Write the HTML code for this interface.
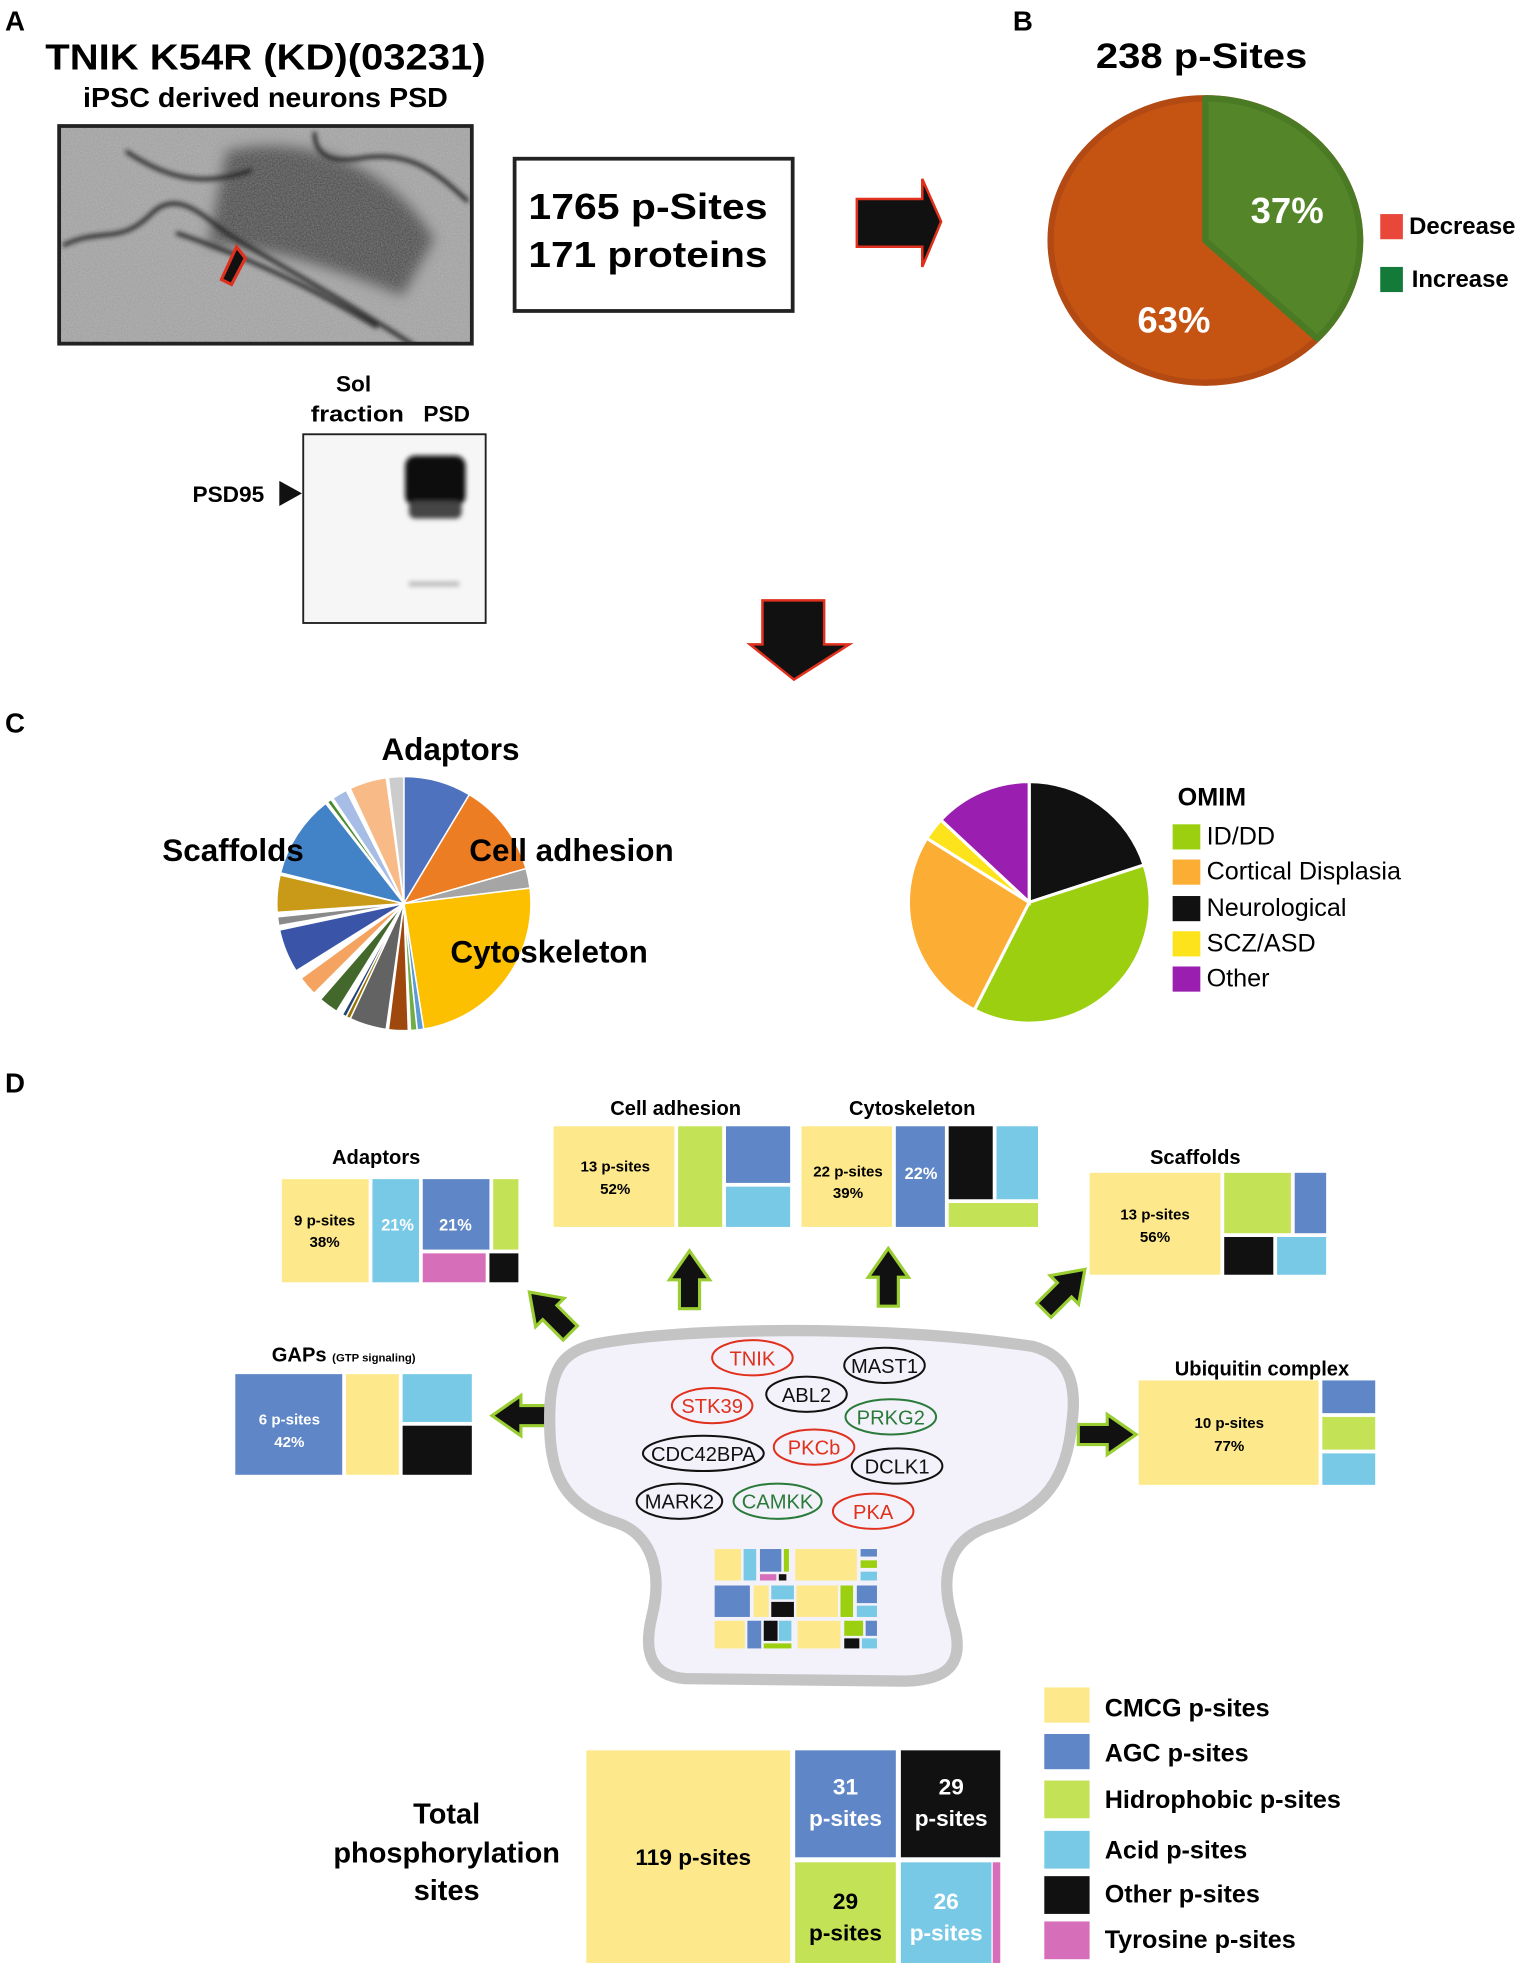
<!DOCTYPE html>
<html><head><meta charset="utf-8"><style>
html,body{margin:0;padding:0;background:#fff}
svg{display:block}
text{font-family:"Liberation Sans",Arial,sans-serif}
</style></head><body>
<svg width="1535" height="1977" viewBox="0 0 1220 1571" xmlns="http://www.w3.org/2000/svg">
<defs>
<filter id="noise" x="0" y="0" width="1" height="1"><feTurbulence type="fractalNoise" baseFrequency="0.9" numOctaves="2" seed="3"/><feColorMatrix type="matrix" values="0 0 0 0 0.3  0 0 0 0 0.3  0 0 0 0 0.3  0 0 0 -1.2 1.1"/></filter>
<filter id="blur"><feGaussianBlur stdDeviation="5"/></filter>
<filter id="blur2"><feGaussianBlur stdDeviation="2"/></filter>
<clipPath id="emclip"><rect x="47" y="100" width="328" height="173"/></clipPath>
</defs>
<rect width="1220" height="1571" fill="#fff"/>

<text x="4" y="24" font-size="22" font-weight="bold">A</text>
<text x="805" y="24" font-size="22" font-weight="bold">B</text>
<text x="4" y="582" font-size="22" font-weight="bold">C</text>
<text x="4" y="868" font-size="22" font-weight="bold">D</text>

<text x="211" y="55" font-size="29" font-weight="bold" text-anchor="middle" textLength="350" lengthAdjust="spacingAndGlyphs">TNIK K54R (KD)(03231)</text>
<text x="211" y="85" font-size="22" font-weight="bold" text-anchor="middle" textLength="290" lengthAdjust="spacingAndGlyphs">iPSC derived neurons PSD</text>

<!-- EM image -->
<g clip-path="url(#emclip)">
<rect x="47" y="100" width="328" height="173" fill="#b4b4b4"/>
<path d="M180 120 C240 105 310 130 345 190 L320 235 C270 215 215 195 165 195 Z" fill="#4a4a4a" filter="url(#blur)"/>
<rect x="47" y="100" width="328" height="173" filter="url(#noise)" opacity="0.7"/>
<g fill="none" stroke="#222" stroke-width="3" filter="url(#blur2)">
<path d="M50 195 C80 180 95 195 120 170 C140 150 160 170 180 185 C220 210 260 230 330 275"/>
<path d="M140 185 C200 205 250 230 300 260"/>
<path d="M100 120 C130 140 160 150 200 135"/>
<path d="M250 105 C250 125 265 130 290 125 C330 120 350 140 372 160"/>
</g>
</g>
<rect x="47" y="100" width="328" height="173" fill="none" stroke="#222" stroke-width="3"/>
<polygon points="176,222 188,196 195,205 184,226" fill="#111" stroke="#e0301e" stroke-width="2.5"/>

<rect x="409" y="126" width="221" height="121" fill="#fff" stroke="#222" stroke-width="3"/>
<text x="515" y="174" font-size="29" font-weight="bold" text-anchor="middle" textLength="190" lengthAdjust="spacingAndGlyphs">1765 p-Sites</text>
<text x="515" y="212" font-size="29" font-weight="bold" text-anchor="middle" textLength="190" lengthAdjust="spacingAndGlyphs">171 proteins</text>

<polygon points="681,158 733,158 733,142 748,176 733,212 733,196 681,196" fill="#111" stroke="#e0301e" stroke-width="2"/>

<text x="281" y="311" font-size="18" font-weight="bold" text-anchor="middle">Sol</text>
<text x="284" y="335" font-size="18" font-weight="bold" text-anchor="middle" textLength="74" lengthAdjust="spacingAndGlyphs">fraction</text>
<text x="355" y="335" font-size="18" font-weight="bold" text-anchor="middle">PSD</text>
<rect x="241" y="345" width="145" height="150" fill="#f6f6f6" stroke="#222" stroke-width="1.5"/>
<g filter="url(#blur2)">
<rect x="322" y="362" width="48" height="40" rx="8" fill="#0c0c0c"/>
<rect x="325" y="398" width="42" height="14" rx="5" fill="#444"/>
<rect x="325" y="462" width="40" height="4" fill="#bbb"/>
</g>
<text x="153" y="399" font-size="18" font-weight="bold">PSD95</text>
<polygon points="222,382 240,392 222,402" fill="#111"/>

<!-- B -->
<text x="955" y="54" font-size="28" font-weight="bold" text-anchor="middle" textLength="168" lengthAdjust="spacingAndGlyphs">238 p-Sites</text>
<ellipse cx="958" cy="191" rx="123" ry="113" fill="#c55413" stroke="#b34a13" stroke-width="5"/>
<path d="M958 191 L958 78 A123 113 0 0 1 1047 269 Z" fill="#558529" stroke="#4a7a24" stroke-width="5" stroke-linejoin="round"/>
<text x="1023" y="177" font-size="29" font-weight="bold" fill="#fff" text-anchor="middle">37%</text>
<text x="933" y="264" font-size="29" font-weight="bold" fill="#fff" text-anchor="middle">63%</text>
<rect x="1097" y="170" width="18" height="20" fill="#e8473a"/>
<text x="1120" y="186" font-size="19" font-weight="bold">Decrease</text>
<rect x="1097" y="212" width="18" height="20" fill="#147a3a"/>
<text x="1122" y="228" font-size="19" font-weight="bold">Increase</text>

<polygon points="606,477 655,477 655,512 675,512 631,540 596,512 606,512" fill="#111" stroke="#e0301e" stroke-width="2"/>

<g id="pie1"></g>
<g id="pie2"></g>
<text x="358" y="604" font-size="25" font-weight="bold" text-anchor="middle">Adaptors</text>
<text x="129" y="684" font-size="25" font-weight="bold">Scaffolds</text>
<text x="373" y="684" font-size="25" font-weight="bold">Cell adhesion</text>
<text x="358" y="765" font-size="25" font-weight="bold">Cytoskeleton</text>

<text x="936" y="640" font-size="20" font-weight="bold">OMIM</text>
<rect x="932" y="655" width="22" height="20" fill="#9ccf10"/><text x="959" y="671" font-size="20">ID/DD</text>
<rect x="932" y="683" width="22" height="20" fill="#fcad34"/><text x="959" y="699" font-size="20">Cortical Displasia</text>
<rect x="932" y="712" width="22" height="20" fill="#111"/><text x="959" y="728" font-size="20">Neurological</text>
<rect x="932" y="740" width="22" height="20" fill="#fde31c"/><text x="959" y="756" font-size="20">SCZ/ASD</text>
<rect x="932" y="768" width="22" height="20" fill="#9a1fb0"/><text x="959" y="784" font-size="20">Other</text>

<g font-weight="bold" text-anchor="middle">
<text x="299" y="925" font-size="16">Adaptors</text>
<rect x="224" y="937" width="69" height="82" fill="#fde98c"/>
<rect x="296" y="937" width="37" height="82" fill="#78c9e6"/>
<rect x="336" y="937" width="53" height="56" fill="#5f86c6"/>
<rect x="336" y="996" width="50" height="23" fill="#d66eb9"/>
<rect x="392" y="937" width="20" height="56" fill="#c4e255"/>
<rect x="389" y="996" width="23" height="23" fill="#111"/>
<text x="258" y="974" font-size="12">9 p-sites</text><text x="258" y="991" font-size="12">38%</text>
<text x="316" y="978" font-size="13" fill="#fff">21%</text>
<text x="362" y="978" font-size="13" fill="#fff">21%</text>

<text x="537" y="886" font-size="16">Cell adhesion</text>
<rect x="440" y="895" width="96" height="80" fill="#fde98c"/>
<rect x="539" y="895" width="35" height="80" fill="#c4e255"/>
<rect x="577" y="895" width="51" height="45" fill="#5f86c6"/>
<rect x="577" y="943" width="51" height="32" fill="#78c9e6"/>
<text x="489" y="931" font-size="12">13 p-sites</text><text x="489" y="949" font-size="12">52%</text>

<text x="725" y="886" font-size="16">Cytoskeleton</text>
<rect x="637" y="895" width="72" height="80" fill="#fde98c"/>
<rect x="712" y="895" width="39" height="80" fill="#5f86c6"/>
<rect x="754" y="895" width="35" height="58" fill="#111"/>
<rect x="792" y="895" width="33" height="58" fill="#78c9e6"/>
<rect x="754" y="956" width="71" height="19" fill="#c4e255"/>
<text x="674" y="935" font-size="12">22 p-sites</text><text x="674" y="952" font-size="12">39%</text>
<text x="732" y="937" font-size="13" fill="#fff">22%</text>

<text x="950" y="925" font-size="16">Scaffolds</text>
<rect x="866" y="932" width="104" height="81" fill="#fde98c"/>
<rect x="973" y="932" width="53" height="48" fill="#c4e255"/>
<rect x="1029" y="932" width="25" height="48" fill="#5f86c6"/>
<rect x="973" y="983" width="39" height="30" fill="#111"/>
<rect x="1015" y="983" width="39" height="30" fill="#78c9e6"/>
<text x="918" y="969" font-size="12">13 p-sites</text><text x="918" y="987" font-size="12">56%</text>

<text x="216" y="1082" font-size="16" text-anchor="start">GAPs <tspan font-size="9">(GTP signaling)</tspan></text>
<rect x="187" y="1092" width="85" height="80" fill="#5f86c6"/>
<rect x="275" y="1092" width="42" height="80" fill="#fde98c"/>
<rect x="320" y="1092" width="55" height="38" fill="#78c9e6"/>
<rect x="320" y="1133" width="55" height="39" fill="#111"/>
<text x="230" y="1132" font-size="12" fill="#fff">6 p-sites</text><text x="230" y="1150" font-size="12" fill="#fff">42%</text>

<text x="1003" y="1093" font-size="16">Ubiquitin complex</text>
<rect x="905" y="1097" width="143" height="83" fill="#fde98c"/>
<rect x="1051" y="1097" width="42" height="26" fill="#5f86c6"/>
<rect x="1051" y="1126" width="42" height="26" fill="#c4e255"/>
<rect x="1051" y="1155" width="42" height="25" fill="#78c9e6"/>
<text x="977" y="1135" font-size="12">10 p-sites</text><text x="977" y="1153" font-size="12">77%</text>
</g>

<g fill="#111" stroke="#9acd32" stroke-width="2.5">
<polygon transform="translate(437,1043) rotate(-45)" points="-8,23 8,23 8,0 16,0 0,-23 -16,0 -8,0"/>
<polygon transform="translate(548,1017)" points="-8,23 8,23 8,0 16,0 0,-23 -16,0 -8,0"/>
<polygon transform="translate(706,1015)" points="-8,23 8,23 8,0 16,0 0,-23 -16,0 -8,0"/>
<polygon transform="translate(846,1025) rotate(45)" points="-8,23 8,23 8,0 16,0 0,-23 -16,0 -8,0"/>
<polygon transform="translate(414,1125) rotate(-90)" points="-8,23 8,23 8,0 16,0 0,-23 -16,0 -8,0"/>
<polygon transform="translate(880,1140) rotate(90)" points="-8,23 8,23 8,0 16,0 0,-23 -16,0 -8,0"/>
</g>

<path d="M474 1068 C540 1055 700 1052 821 1070 C850 1078 856 1100 852 1130 C848 1175 830 1200 789 1212 C755 1222 745 1250 758 1290 C768 1325 750 1335 720 1336 L545 1334 C515 1332 512 1310 518 1285 C528 1245 515 1218 490 1210 C440 1195 436 1160 437 1120 C438 1085 450 1073 474 1068 Z" fill="#f3f2fa" stroke="#c4c4c4" stroke-width="9"/>

<g fill="none" stroke-width="1.6">
<ellipse cx="598" cy="1079" rx="32" ry="14" stroke="#e0301e"/>
<ellipse cx="703" cy="1085" rx="32" ry="14" stroke="#111"/>
<ellipse cx="641" cy="1108" rx="32" ry="14" stroke="#111"/>
<ellipse cx="566" cy="1117" rx="32" ry="14" stroke="#e0301e"/>
<ellipse cx="708" cy="1126" rx="36" ry="14" stroke="#2a7a3a"/>
<ellipse cx="559" cy="1155" rx="48" ry="14" stroke="#111"/>
<ellipse cx="647" cy="1150" rx="32" ry="14" stroke="#e0301e"/>
<ellipse cx="713" cy="1165" rx="36" ry="14" stroke="#111"/>
<ellipse cx="540" cy="1193" rx="34" ry="14" stroke="#111"/>
<ellipse cx="618" cy="1193" rx="35" ry="14" stroke="#2a7a3a"/>
<ellipse cx="694" cy="1201" rx="32" ry="14" stroke="#e0301e"/>
</g>
<g font-size="16" text-anchor="middle">
<text x="598" y="1085" fill="#e0301e">TNIK</text>
<text x="703" y="1091" fill="#111">MAST1</text>
<text x="641" y="1114" fill="#111">ABL2</text>
<text x="566" y="1123" fill="#e0301e">STK39</text>
<text x="708" y="1132" fill="#2a7a3a">PRKG2</text>
<text x="559" y="1161" fill="#111">CDC42BPA</text>
<text x="647" y="1156" fill="#e0301e">PKCb</text>
<text x="713" y="1171" fill="#111">DCLK1</text>
<text x="540" y="1199" fill="#111">MARK2</text>
<text x="618" y="1199" fill="#2a7a3a">CAMKK</text>
<text x="694" y="1207" fill="#e0301e">PKA</text>
</g>

<g>
<rect x="568" y="1231" width="21" height="25" fill="#fde98c"/>
<rect x="591" y="1231" width="10" height="25" fill="#78c9e6"/>
<rect x="604" y="1231" width="17" height="18" fill="#5f86c6"/>
<rect x="604" y="1251" width="13" height="5" fill="#d66eb9"/>
<rect x="619" y="1251" width="6" height="5" fill="#111"/>
<rect x="623" y="1231" width="4" height="18" fill="#9ccf10"/>
<rect x="632" y="1231" width="49" height="25" fill="#fde98c"/>
<rect x="684" y="1231" width="13" height="6" fill="#5f86c6"/>
<rect x="684" y="1240" width="13" height="6" fill="#9ccf10"/>
<rect x="684" y="1249" width="13" height="7" fill="#78c9e6"/>
<rect x="568" y="1260" width="28" height="25" fill="#5f86c6"/>
<rect x="599" y="1260" width="12" height="25" fill="#fde98c"/>
<rect x="613" y="1260" width="18" height="11" fill="#78c9e6"/>
<rect x="613" y="1273" width="18" height="12" fill="#111"/>
<rect x="633" y="1260" width="33" height="25" fill="#fde98c"/>
<rect x="668" y="1260" width="10" height="25" fill="#9ccf10"/>
<rect x="681" y="1260" width="16" height="14" fill="#5f86c6"/>
<rect x="681" y="1276" width="16" height="9" fill="#78c9e6"/>
<rect x="568" y="1288" width="24" height="22" fill="#fde98c"/>
<rect x="594" y="1288" width="11" height="22" fill="#5f86c6"/>
<rect x="607" y="1288" width="11" height="16" fill="#111"/>
<rect x="619" y="1288" width="10" height="16" fill="#78c9e6"/>
<rect x="607" y="1306" width="22" height="4" fill="#9ccf10"/>
<rect x="634" y="1288" width="34" height="22" fill="#fde98c"/>
<rect x="671" y="1288" width="15" height="12" fill="#9ccf10"/>
<rect x="688" y="1288" width="9" height="12" fill="#5f86c6"/>
<rect x="671" y="1302" width="12" height="8" fill="#111"/>
<rect x="685" y="1302" width="12" height="8" fill="#78c9e6"/>
</g>

<g font-weight="bold" text-anchor="middle">
<text x="355" y="1449" font-size="23">Total</text>
<text x="355" y="1480" font-size="23">phosphorylation</text>
<text x="355" y="1510" font-size="23">sites</text>
<rect x="466" y="1391" width="162" height="169" fill="#fde98c"/>
<rect x="632" y="1391" width="80" height="85" fill="#5f86c6"/>
<rect x="716" y="1391" width="79" height="85" fill="#111"/>
<rect x="632" y="1480" width="80" height="80" fill="#c4e255"/>
<rect x="716" y="1480" width="72" height="80" fill="#78c9e6"/>
<rect x="789" y="1480" width="6" height="80" fill="#d66eb9"/>
<text x="551" y="1482" font-size="18">119 p-sites</text>
<text x="672" y="1426" font-size="18" fill="#fff">31</text><text x="672" y="1451" font-size="18" fill="#fff">p-sites</text>
<text x="756" y="1426" font-size="18" fill="#fff">29</text><text x="756" y="1451" font-size="18" fill="#fff">p-sites</text>
<text x="672" y="1517" font-size="18">29</text><text x="672" y="1542" font-size="18">p-sites</text>
<text x="752" y="1517" font-size="18" fill="#fff">26</text><text x="752" y="1542" font-size="18" fill="#fff">p-sites</text>
</g>
<g font-weight="bold" font-size="20">
<rect x="830" y="1341" width="36" height="28" fill="#fde98c"/><text x="878" y="1364">CMCG p-sites</text>
<rect x="830" y="1378" width="36" height="28" fill="#5f86c6"/><text x="878" y="1400">AGC p-sites</text>
<rect x="830" y="1415" width="36" height="30" fill="#c4e255"/><text x="878" y="1437">Hidrophobic p-sites</text>
<rect x="830" y="1455" width="36" height="30" fill="#78c9e6"/><text x="878" y="1477">Acid p-sites</text>
<rect x="830" y="1491" width="36" height="30" fill="#111"/><text x="878" y="1512">Other p-sites</text>
<rect x="830" y="1527" width="36" height="30" fill="#d66eb9"/><text x="878" y="1548">Tyrosine p-sites</text>
</g>
</svg>
<script>
function pie(id,cx,cy,r,sl,stroke){
 var g=document.getElementById(id),ns="http://www.w3.org/2000/svg";
 sl.forEach(function(s){
  var a0=s[0]*Math.PI/180,a1=s[1]*Math.PI/180;
  var x0=cx+r*Math.sin(a0),y0=cy-r*Math.cos(a0),x1=cx+r*Math.sin(a1),y1=cy-r*Math.cos(a1);
  var p=document.createElementNS(ns,"path");
  p.setAttribute("d","M"+cx+" "+cy+" L"+x0+" "+y0+" A"+r+" "+r+" 0 "+((s[1]-s[0])>180?1:0)+" 1 "+x1+" "+y1+" Z");
  p.setAttribute("fill",s[2]);p.setAttribute("stroke","#fff");p.setAttribute("stroke-width",stroke);
  g.appendChild(p);
 });
}
pie("pie1",321,718,101,[
[0,31,"#4f72be"],[31,74,"#ed7d22"],[74,83,"#a5a5a5"],[83,171,"#fcc000"],[171,174,"#5c9bd5"],[174,177,"#70ad47"],
[178,187,"#9e480e"],[188,205,"#636363"],[205,207,"#997300"],[207,209,"#264478"],[212,221,"#43682b"],
[225,234,"#f4a460"],[238,258,"#3a55a8"],[260,264,"#8a8a8a"],[266,283,"#c89a18"],[284,322,"#4282c6"],
[323,325,"#4b8b2b"],[326,333,"#a8bde6"],[335,352,"#f8bb87"],[353,360,"#cccccc"]],1.2);
pie("pie2",818,717,96,[[0,72,"#111111"],[72,207,"#9ccf10"],[207,302,"#fcad34"],[302,313,"#fde31c"],[313,360,"#9a1fb0"]],2.5);
</script>
</body></html>
